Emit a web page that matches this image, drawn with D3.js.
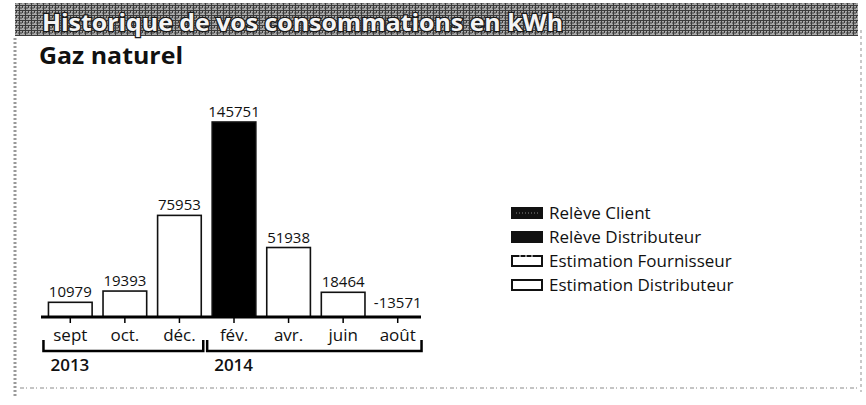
<!DOCTYPE html>
<html>
<head>
<meta charset="utf-8">
<script src="https://cdn.jsdelivr.net/npm/d3@7"></script>
<style>
  body { margin: 0; background: #fff; }
  svg text { font-family: "Open Sans", "Noto Sans", sans-serif; }
</style>
</head>
<body>
<script>
var months = ["sept", "oct.", "déc.", "fév.", "avr.", "juin", "août"];
var values = [10979, 19393, 75953, 145751, 51938, 18464, -13571];
var years = ["2013", "2013", "2013", "2014", "2014", "2014", "2014"];
var types = ["estDist", "estDist", "estDist", "releveDist", "estDist", "estDist", "estDist"];

var legendKeys = ["releveClient", "releveDist", "estFourn", "estDist"];
var legendLabels = ["Relève Client", "Relève Distributeur", "Estimation Fournisseur", "Estimation Distributeur"];

var width = 866, height = 405;

var svg = d3.select("body").append("svg")
    .attr("width", width)
    .attr("height", height);

// scan texture for the title band
var defs = svg.append("defs");
var pat = defs.append("pattern")
    .attr("id", "scan")
    .attr("width", 6).attr("height", 5)
    .attr("patternUnits", "userSpaceOnUse");
pat.append("rect").attr("width", 6).attr("height", 5).attr("fill", "#a8a8a8");
pat.append("path").attr("d", "M0,0.5H6M0,3H4M1.5,0V5M4.5,0V3")
    .attr("stroke", "#3c3c3c").attr("stroke-width", 1);

// page edges of the scan
svg.append("line")
    .attr("x1", 15).attr("x2", 15).attr("y1", 38).attr("y2", 398)
    .attr("stroke", "#9a9a9a").attr("stroke-width", 3)
    .attr("stroke-dasharray", "2,2");
svg.append("line")
    .attr("x1", 861).attr("x2", 861).attr("y1", 30).attr("y2", 392)
    .attr("stroke", "#c8c8c8").attr("stroke-width", 2)
    .attr("stroke-dasharray", "3,3");
svg.append("line")
    .attr("x1", 20).attr("x2", 860).attr("y1", 388).attr("y2", 388)
    .attr("stroke", "#c4c4c4").attr("stroke-width", 2)
    .attr("stroke-dasharray", "4,2,1,3");

// title band
svg.append("rect")
    .attr("x", 15).attr("y", 3)
    .attr("width", 843).attr("height", 33)
    .attr("fill", "url(#scan)");

svg.append("text")
    .attr("x", 42).attr("y", 31)
    .attr("textLength", 521)
    .attr("lengthAdjust", "spacingAndGlyphs")
    .style("font-size", "24px")
    .style("font-weight", "bold")
    .attr("fill", "#f4f4f4")
    .attr("stroke", "#1a1a1a")
    .attr("stroke-width", 2.5)
    .attr("paint-order", "stroke")
    .text("Historique de vos consommations en kWh");

svg.append("text")
    .attr("x", 39).attr("y", 64)
    .attr("textLength", 144)
    .attr("lengthAdjust", "spacingAndGlyphs")
    .style("font-size", "24px")
    .style("font-weight", "bold")
    .attr("fill", "#111")
    .text("Gaz naturel");

// scales
var baseY = 317;
var x = d3.scaleBand()
    .domain(months)
    .range([43, 425])
    .paddingInner(0.2)
    .paddingOuter(0.1);

var y = d3.scaleLinear()
    .domain([0, d3.max(values)])
    .range([baseY, 122]);

var g = svg.append("g");

// bars
g.selectAll(".bar")
    .data(months)
    .enter().append("rect")
    .attr("class", "bar")
    .attr("x", function (d) { return x(d); })
    .attr("width", x.bandwidth())
    .attr("y", function (d, i) { return y(Math.max(0, values[i])); })
    .attr("height", function (d, i) { return baseY - y(Math.max(0, values[i])); })
    .attr("fill", function (d, i) { return types[i] === "releveDist" ? "#000" : "#fff"; })
    .attr("stroke", "#111")
    .attr("stroke-width", 1.6);

// value labels
g.selectAll(".val")
    .data(months)
    .enter().append("text")
    .attr("class", "val")
    .attr("x", function (d) { return x(d) + x.bandwidth() / 2; })
    .attr("y", function (d, i) { return values[i] < 0 ? y(0) - 9 : y(values[i]) - 5; })
    .attr("text-anchor", "middle")
    .style("font-size", "15px")
    .attr("fill", "#111")
    .text(function (d, i) { return values[i]; });

// x axis
var axis = g.append("g")
    .attr("transform", "translate(0," + baseY + ")")
    .call(d3.axisBottom(x).tickSize(6).tickPadding(6));
axis.select(".domain").remove();
axis.append("line")
    .attr("x1", 41).attr("x2", 421)
    .attr("stroke", "#000").attr("stroke-width", 3);
axis.selectAll(".tick line").attr("stroke", "#000").attr("stroke-width", 1.5);
axis.selectAll(".tick text")
    .style("font-size", "17px")
    .attr("fill", "#111");

// year brackets
var yearList = Array.from(new Set(years));
yearList.forEach(function (yr) {
    var ms = months.filter(function (m, i) { return years[i] === yr; });
    var x0 = x(ms[0]) - 5;
    var x1 = x(ms[ms.length - 1]) + x.bandwidth() + 2;
    g.append("path")
        .attr("d", "M" + x0 + ",340V351H" + x1 + "V340")
        .attr("fill", "none")
        .attr("stroke", "#000")
        .attr("stroke-width", 2.5);
    g.append("text")
        .attr("x", x0 + 7).attr("y", 371)
        .style("font-size", "17px")
        .style("font-weight", 600)
        .attr("fill", "#111")
        .text(yr);
});

// legend
var legend = svg.append("g").attr("transform", "translate(511,0)");
var rowY = d3.scalePoint().domain(legendKeys).range([213, 285]);

legendKeys.forEach(function (k, i) {
    var row = legend.append("g").attr("transform", "translate(0," + rowY(k) + ")");
    var filled = k === "releveClient" || k === "releveDist";
    row.append("rect")
        .attr("x", 1).attr("y", -5)
        .attr("width", 30).attr("height", 10)
        .attr("fill", filled ? "#111" : "#fff")
        .attr("stroke", "#111")
        .attr("stroke-width", 2);
    if (k === "releveClient") {
        row.append("line")
            .attr("x1", 5).attr("x2", 27).attr("y1", 0).attr("y2", 0)
            .attr("stroke", "#888").attr("stroke-width", 1)
            .attr("stroke-dasharray", "1,2");
    }
    if (k === "estFourn") {
        row.append("line")
            .attr("x1", 8).attr("x2", 26).attr("y1", -5).attr("y2", -5)
            .attr("stroke", "#fff").attr("stroke-width", 1.2)
            .attr("stroke-dasharray", "2,4");
    }
    row.append("text")
        .attr("x", 38).attr("y", 6)
        .style("font-size", "17px")
        .attr("fill", "#111")
        .text(legendLabels[i]);
});
</script>
</body>
</html>
